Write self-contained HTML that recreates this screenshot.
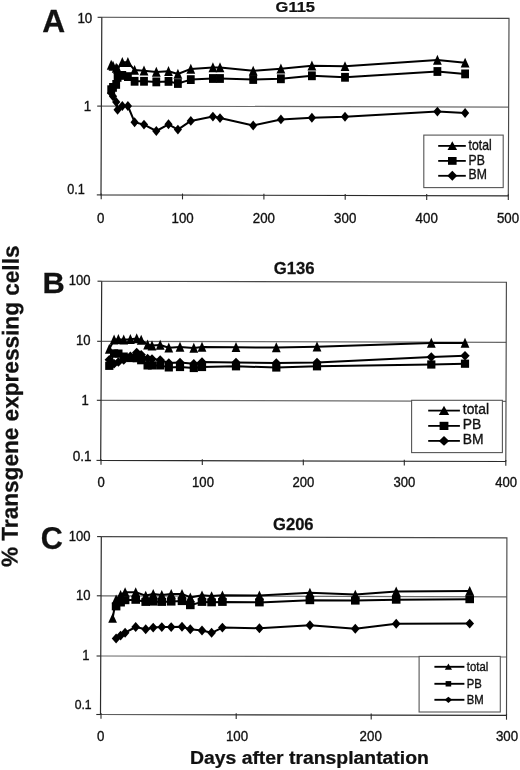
<!DOCTYPE html>
<html><head><meta charset="utf-8"><title>Figure</title>
<style>html,body{margin:0;padding:0;background:#fff;}body{width:520px;height:770px;overflow:hidden;}svg{display:block;}text{font-family:'Liberation Sans', Arial, Helvetica, sans-serif;}</style>
</head><body>
<svg width="520" height="770" viewBox="0 0 520 770">
<rect width="520" height="770" fill="#fff"/>
<line x1="101.40" y1="106.10" x2="508.65" y2="107.10" stroke="#6a6a6a" stroke-width="1.2"/>
<line x1="97.20" y1="106.10" x2="101.40" y2="106.10" stroke="#2a2a2a" stroke-width="1.1"/>
<path d="M101.8 17.3L509.0 18.4L508.3 195.8" fill="none" stroke="#484848" stroke-width="1.15"/>
<path d="M101.8 17.3L101.0 194.9L508.3 195.8" fill="none" stroke="#2a2a2a" stroke-width="1.2"/>
<line x1="97.60" y1="17.3" x2="101.8" y2="17.3" stroke="#2a2a2a" stroke-width="1.1"/>
<line x1="96.80" y1="194.9" x2="101.0" y2="194.9" stroke="#2a2a2a" stroke-width="1.1"/>
<line x1="101.20" y1="193.40" x2="101.20" y2="199.20" stroke="#2a2a2a" stroke-width="1.1"/>
<line x1="182.50" y1="193.58" x2="182.50" y2="199.38" stroke="#2a2a2a" stroke-width="1.1"/>
<line x1="263.90" y1="193.76" x2="263.90" y2="199.56" stroke="#2a2a2a" stroke-width="1.1"/>
<line x1="345.20" y1="193.94" x2="345.20" y2="199.74" stroke="#2a2a2a" stroke-width="1.1"/>
<line x1="426.70" y1="194.12" x2="426.70" y2="199.92" stroke="#2a2a2a" stroke-width="1.1"/>
<line x1="508.30" y1="194.30" x2="508.30" y2="200.10" stroke="#2a2a2a" stroke-width="1.1"/>
<text transform="translate(42.20 32.00) scale(1.030 1)" font-size="30.8" text-anchor="start" font-weight="bold" fill="#111" stroke="#111" stroke-width="0.25">A</text>
<text transform="translate(295.30 12.40) scale(1.100 1)" font-size="15.0" text-anchor="middle" font-weight="bold" fill="#111" stroke="#111" stroke-width="0.25">G115</text>
<text transform="translate(92.30 22.60) scale(0.970 1)" font-size="13.8" text-anchor="end" fill="#111" stroke="#111" stroke-width="0.35">10</text>
<text transform="translate(91.30 110.90) scale(0.970 1)" font-size="13.8" text-anchor="end" fill="#111" stroke="#111" stroke-width="0.35">1</text>
<text transform="translate(84.90 194.40) scale(0.880 1)" font-size="14.4" text-anchor="end" fill="#111" stroke="#111" stroke-width="0.35">0.1</text>
<text transform="translate(100.80 223.00) scale(0.950 1)" font-size="14.0" text-anchor="middle" fill="#111" stroke="#111" stroke-width="0.35">0</text>
<text transform="translate(182.60 223.00) scale(0.950 1)" font-size="14.0" text-anchor="middle" fill="#111" stroke="#111" stroke-width="0.35">100</text>
<text transform="translate(263.90 223.00) scale(0.950 1)" font-size="14.0" text-anchor="middle" fill="#111" stroke="#111" stroke-width="0.35">200</text>
<text transform="translate(345.20 223.00) scale(0.950 1)" font-size="14.0" text-anchor="middle" fill="#111" stroke="#111" stroke-width="0.35">300</text>
<text transform="translate(426.70 223.00) scale(0.950 1)" font-size="14.0" text-anchor="middle" fill="#111" stroke="#111" stroke-width="0.35">400</text>
<text transform="translate(508.00 223.00) scale(0.950 1)" font-size="14.0" text-anchor="middle" fill="#111" stroke="#111" stroke-width="0.35">500</text>
<path d="M111.2 64.9L113.0 66.0L116.2 68.0L117.6 69.0L122.3 62.2L127.9 62.2L134.6 70.1L144.0 70.7L156.3 71.9L168.5 71.2L177.9 74.0L190.8 68.9L212.9 67.5L220.0 67.5L253.2 70.8L280.9 68.7L311.9 65.7L345.0 66.3L437.4 60.0L465.1 62.8" fill="none" stroke="#000" stroke-width="2.0" stroke-linejoin="round"/>
<g fill="#000"><path d="M111.20 59.75L115.60 69.65L106.80 69.65Z"/><path d="M113.00 60.85L117.40 70.75L108.60 70.75Z"/><path d="M116.20 62.85L120.60 72.75L111.80 72.75Z"/><path d="M117.60 63.85L122.00 73.75L113.20 73.75Z"/><path d="M122.30 57.05L126.70 66.95L117.90 66.95Z"/><path d="M127.90 57.05L132.30 66.95L123.50 66.95Z"/><path d="M134.60 64.95L139.00 74.85L130.20 74.85Z"/><path d="M144.00 65.55L148.40 75.45L139.60 75.45Z"/><path d="M156.30 66.75L160.70 76.65L151.90 76.65Z"/><path d="M168.50 66.05L172.90 75.95L164.10 75.95Z"/><path d="M177.90 68.85L182.30 78.75L173.50 78.75Z"/><path d="M190.80 63.75L195.20 73.65L186.40 73.65Z"/><path d="M212.90 62.35L217.30 72.25L208.50 72.25Z"/><path d="M220.00 62.35L224.40 72.25L215.60 72.25Z"/><path d="M253.20 65.65L257.60 75.55L248.80 75.55Z"/><path d="M280.90 63.55L285.30 73.45L276.50 73.45Z"/><path d="M311.90 60.55L316.30 70.45L307.50 70.45Z"/><path d="M345.00 61.15L349.40 71.05L340.60 71.05Z"/><path d="M437.40 54.85L441.80 64.75L433.00 64.75Z"/><path d="M465.10 57.65L469.50 67.55L460.70 67.55Z"/></g>
<path d="M111.2 89.7L113.0 87.4L116.2 84.4L117.6 77.4L122.3 75.4L127.9 76.6L134.6 81.3L144.0 81.3L156.3 81.9L168.5 81.4L177.9 83.5L190.8 79.6L212.9 78.5L220.0 78.5L253.2 79.5L280.9 78.8L311.9 75.8L345.0 77.3L437.4 71.5L465.1 73.9" fill="none" stroke="#000" stroke-width="2.0" stroke-linejoin="round"/>
<g fill="#000"><rect x="107.30" y="85.30" width="7.8" height="8.8"/><rect x="109.10" y="83.00" width="7.8" height="8.8"/><rect x="112.30" y="80.00" width="7.8" height="8.8"/><rect x="113.70" y="73.00" width="7.8" height="8.8"/><rect x="118.40" y="71.00" width="7.8" height="8.8"/><rect x="124.00" y="72.20" width="7.8" height="8.8"/><rect x="130.70" y="76.90" width="7.8" height="8.8"/><rect x="140.10" y="76.90" width="7.8" height="8.8"/><rect x="152.40" y="77.50" width="7.8" height="8.8"/><rect x="164.60" y="77.00" width="7.8" height="8.8"/><rect x="174.00" y="79.10" width="7.8" height="8.8"/><rect x="186.90" y="75.20" width="7.8" height="8.8"/><rect x="209.00" y="74.10" width="7.8" height="8.8"/><rect x="216.10" y="74.10" width="7.8" height="8.8"/><rect x="249.30" y="75.10" width="7.8" height="8.8"/><rect x="277.00" y="74.40" width="7.8" height="8.8"/><rect x="308.00" y="71.40" width="7.8" height="8.8"/><rect x="341.10" y="72.90" width="7.8" height="8.8"/><rect x="433.50" y="67.10" width="7.8" height="8.8"/><rect x="461.20" y="69.50" width="7.8" height="8.8"/></g>
<path d="M111.2 93.0L113.0 96.2L116.2 102.0L117.6 109.8L122.3 106.0L127.9 106.0L134.6 122.2L144.0 124.6L156.3 131.0L168.5 124.3L177.9 129.6L190.8 120.9L212.9 116.6L220.0 118.1L253.2 125.5L280.9 119.4L311.9 117.8L345.0 116.8L437.4 111.6L465.1 113.0" fill="none" stroke="#000" stroke-width="2.0" stroke-linejoin="round"/>
<g fill="#000"><path d="M111.20 88.05L115.30 93.00L111.20 97.95L107.10 93.00Z"/><path d="M113.00 91.25L117.10 96.20L113.00 101.15L108.90 96.20Z"/><path d="M116.20 97.05L120.30 102.00L116.20 106.95L112.10 102.00Z"/><path d="M117.60 104.85L121.70 109.80L117.60 114.75L113.50 109.80Z"/><path d="M122.30 101.05L126.40 106.00L122.30 110.95L118.20 106.00Z"/><path d="M127.90 101.05L132.00 106.00L127.90 110.95L123.80 106.00Z"/><path d="M134.60 117.25L138.70 122.20L134.60 127.15L130.50 122.20Z"/><path d="M144.00 119.65L148.10 124.60L144.00 129.55L139.90 124.60Z"/><path d="M156.30 126.05L160.40 131.00L156.30 135.95L152.20 131.00Z"/><path d="M168.50 119.35L172.60 124.30L168.50 129.25L164.40 124.30Z"/><path d="M177.90 124.65L182.00 129.60L177.90 134.55L173.80 129.60Z"/><path d="M190.80 115.95L194.90 120.90L190.80 125.85L186.70 120.90Z"/><path d="M212.90 111.65L217.00 116.60L212.90 121.55L208.80 116.60Z"/><path d="M220.00 113.15L224.10 118.10L220.00 123.05L215.90 118.10Z"/><path d="M253.20 120.55L257.30 125.50L253.20 130.45L249.10 125.50Z"/><path d="M280.90 114.45L285.00 119.40L280.90 124.35L276.80 119.40Z"/><path d="M311.90 112.85L316.00 117.80L311.90 122.75L307.80 117.80Z"/><path d="M345.00 111.85L349.10 116.80L345.00 121.75L340.90 116.80Z"/><path d="M437.40 106.65L441.50 111.60L437.40 116.55L433.30 111.60Z"/><path d="M465.10 108.05L469.20 113.00L465.10 117.95L461.00 113.00Z"/></g>
<rect x="423.8" y="135.1" width="79.39999999999998" height="52.5" fill="#fff" stroke="#555" stroke-width="1.1"/>
<line x1="438.2" y1="145.9" x2="465.8" y2="145.9" stroke="#000" stroke-width="1.8"/>
<g fill="#000"><path d="M452.30 141.32L457.10 150.12L447.50 150.12Z"/></g>
<text transform="translate(468.60 149.50) scale(0.860 1)" font-size="14.2" text-anchor="start" fill="#111" stroke="#111" stroke-width="0.35">total</text>
<line x1="438.2" y1="160.9" x2="465.8" y2="160.9" stroke="#000" stroke-width="1.8"/>
<g fill="#000"><rect x="448.00" y="157.00" width="8.6" height="7.8"/></g>
<text transform="translate(468.60 164.50) scale(0.860 1)" font-size="14.2" text-anchor="start" fill="#111" stroke="#111" stroke-width="0.35">PB</text>
<line x1="438.2" y1="175.8" x2="465.8" y2="175.8" stroke="#000" stroke-width="1.8"/>
<g fill="#000"><path d="M452.30 170.85L457.25 175.80L452.30 180.75L447.35 175.80Z"/></g>
<text transform="translate(468.60 179.40) scale(0.860 1)" font-size="14.2" text-anchor="start" fill="#111" stroke="#111" stroke-width="0.35">BM</text>
<line x1="101.36" y1="341.30" x2="506.20" y2="342.33" stroke="#6a6a6a" stroke-width="1.2"/>
<line x1="97.16" y1="341.30" x2="101.36" y2="341.30" stroke="#2a2a2a" stroke-width="1.1"/>
<line x1="101.04" y1="400.30" x2="506.00" y2="401.37" stroke="#6a6a6a" stroke-width="1.2"/>
<line x1="96.84" y1="400.30" x2="101.04" y2="400.30" stroke="#2a2a2a" stroke-width="1.1"/>
<path d="M101.7 281.2L506.4 282.2L505.8 461.5" fill="none" stroke="#484848" stroke-width="1.15"/>
<path d="M101.7 281.2L100.7 460.4L505.8 461.5" fill="none" stroke="#2a2a2a" stroke-width="1.2"/>
<line x1="97.50" y1="281.2" x2="101.7" y2="281.2" stroke="#2a2a2a" stroke-width="1.1"/>
<line x1="96.50" y1="460.4" x2="100.7" y2="460.4" stroke="#2a2a2a" stroke-width="1.1"/>
<line x1="101.00" y1="458.90" x2="101.00" y2="464.70" stroke="#2a2a2a" stroke-width="1.1"/>
<line x1="202.30" y1="459.18" x2="202.30" y2="464.98" stroke="#2a2a2a" stroke-width="1.1"/>
<line x1="303.30" y1="459.45" x2="303.30" y2="465.25" stroke="#2a2a2a" stroke-width="1.1"/>
<line x1="404.30" y1="459.72" x2="404.30" y2="465.52" stroke="#2a2a2a" stroke-width="1.1"/>
<line x1="505.80" y1="460.00" x2="505.80" y2="465.80" stroke="#2a2a2a" stroke-width="1.1"/>
<text transform="translate(42.40 293.00) scale(1.030 1)" font-size="30.0" text-anchor="start" font-weight="bold" fill="#111" stroke="#111" stroke-width="0.25">B</text>
<text transform="translate(294.20 274.10) scale(1.060 1)" font-size="15.8" text-anchor="middle" font-weight="bold" fill="#111" stroke="#111" stroke-width="0.25">G136</text>
<text transform="translate(90.60 284.80) scale(0.920 1)" font-size="14.2" text-anchor="end" fill="#111" stroke="#111" stroke-width="0.35">100</text>
<text transform="translate(90.60 344.80) scale(0.920 1)" font-size="14.2" text-anchor="end" fill="#111" stroke="#111" stroke-width="0.35">10</text>
<text transform="translate(88.80 404.60) scale(0.920 1)" font-size="14.2" text-anchor="end" fill="#111" stroke="#111" stroke-width="0.35">1</text>
<text transform="translate(91.60 461.40) scale(0.970 1)" font-size="14.0" text-anchor="end" fill="#111" stroke="#111" stroke-width="0.35">0.1</text>
<text transform="translate(101.20 486.60) scale(0.950 1)" font-size="13.8" text-anchor="middle" fill="#111" stroke="#111" stroke-width="0.35">0</text>
<text transform="translate(203.00 486.60) scale(0.950 1)" font-size="13.8" text-anchor="middle" fill="#111" stroke="#111" stroke-width="0.35">100</text>
<text transform="translate(303.30 486.60) scale(0.950 1)" font-size="13.8" text-anchor="middle" fill="#111" stroke="#111" stroke-width="0.35">200</text>
<text transform="translate(404.30 486.60) scale(0.950 1)" font-size="13.8" text-anchor="middle" fill="#111" stroke="#111" stroke-width="0.35">300</text>
<text transform="translate(506.20 486.60) scale(0.950 1)" font-size="13.8" text-anchor="middle" fill="#111" stroke="#111" stroke-width="0.35">400</text>
<path d="M109.3 349.0L114.1 339.7L118.4 339.3L123.7 339.7L130.4 339.3L136.7 338.5L141.2 339.9L147.6 344.8L152.0 345.6L160.2 345.0L168.8 347.8L180.0 347.0L193.8 348.0L202.0 347.0L236.0 347.3L276.3 347.5L317.0 346.8L431.3 343.0L465.0 343.0" fill="none" stroke="#000" stroke-width="2.0" stroke-linejoin="round"/>
<g fill="#000"><path d="M109.30 343.80L113.70 353.80L104.90 353.80Z"/><path d="M114.10 334.50L118.50 344.50L109.70 344.50Z"/><path d="M118.40 334.10L122.80 344.10L114.00 344.10Z"/><path d="M123.70 334.50L128.10 344.50L119.30 344.50Z"/><path d="M130.40 334.10L134.80 344.10L126.00 344.10Z"/><path d="M136.70 333.30L141.10 343.30L132.30 343.30Z"/><path d="M141.20 334.70L145.60 344.70L136.80 344.70Z"/><path d="M147.60 339.60L152.00 349.60L143.20 349.60Z"/><path d="M152.00 340.40L156.40 350.40L147.60 350.40Z"/><path d="M160.20 339.80L164.60 349.80L155.80 349.80Z"/><path d="M168.80 342.60L173.20 352.60L164.40 352.60Z"/><path d="M180.00 341.80L184.40 351.80L175.60 351.80Z"/><path d="M193.80 342.80L198.20 352.80L189.40 352.80Z"/><path d="M202.00 341.80L206.40 351.80L197.60 351.80Z"/><path d="M236.00 342.10L240.40 352.10L231.60 352.10Z"/><path d="M276.30 342.30L280.70 352.30L271.90 352.30Z"/><path d="M317.00 341.60L321.40 351.60L312.60 351.60Z"/><path d="M431.30 337.80L435.70 347.80L426.90 347.80Z"/><path d="M465.00 337.80L469.40 347.80L460.60 347.80Z"/></g>
<path d="M109.3 365.8L114.1 353.4L118.4 353.6L123.7 356.6L130.4 358.0L136.7 358.2L141.2 360.2L147.6 365.4L152.0 365.4L160.2 365.4L168.8 367.4L180.0 367.0L193.8 368.0L202.0 367.0L236.0 366.3L276.3 367.5L317.0 366.3L431.3 364.5L465.0 363.7" fill="none" stroke="#000" stroke-width="2.0" stroke-linejoin="round"/>
<g fill="#000"><rect x="105.20" y="361.70" width="8.2" height="8.2"/><rect x="110.00" y="349.30" width="8.2" height="8.2"/><rect x="114.30" y="349.50" width="8.2" height="8.2"/><rect x="119.60" y="352.50" width="8.2" height="8.2"/><rect x="126.30" y="353.90" width="8.2" height="8.2"/><rect x="132.60" y="354.10" width="8.2" height="8.2"/><rect x="137.10" y="356.10" width="8.2" height="8.2"/><rect x="143.50" y="361.30" width="8.2" height="8.2"/><rect x="147.90" y="361.30" width="8.2" height="8.2"/><rect x="156.10" y="361.30" width="8.2" height="8.2"/><rect x="164.70" y="363.30" width="8.2" height="8.2"/><rect x="175.90" y="362.90" width="8.2" height="8.2"/><rect x="189.70" y="363.90" width="8.2" height="8.2"/><rect x="197.90" y="362.90" width="8.2" height="8.2"/><rect x="231.90" y="362.20" width="8.2" height="8.2"/><rect x="272.20" y="363.40" width="8.2" height="8.2"/><rect x="312.90" y="362.20" width="8.2" height="8.2"/><rect x="427.20" y="360.40" width="8.2" height="8.2"/><rect x="460.90" y="359.60" width="8.2" height="8.2"/></g>
<path d="M109.3 359.8L114.1 363.8L118.4 362.0L123.7 360.0L130.4 356.2L136.7 352.4L141.2 354.8L147.6 358.5L152.0 359.0L160.2 360.0L168.8 363.0L180.0 362.5L193.8 363.7L202.0 362.0L236.0 362.5L276.3 363.0L317.0 362.5L431.3 357.0L465.0 355.7" fill="none" stroke="#000" stroke-width="2.0" stroke-linejoin="round"/>
<g fill="#000"><path d="M109.30 355.10L114.00 359.80L109.30 364.50L104.60 359.80Z"/><path d="M114.10 359.10L118.80 363.80L114.10 368.50L109.40 363.80Z"/><path d="M118.40 357.30L123.10 362.00L118.40 366.70L113.70 362.00Z"/><path d="M123.70 355.30L128.40 360.00L123.70 364.70L119.00 360.00Z"/><path d="M130.40 351.50L135.10 356.20L130.40 360.90L125.70 356.20Z"/><path d="M136.70 347.70L141.40 352.40L136.70 357.10L132.00 352.40Z"/><path d="M141.20 350.10L145.90 354.80L141.20 359.50L136.50 354.80Z"/><path d="M147.60 353.80L152.30 358.50L147.60 363.20L142.90 358.50Z"/><path d="M152.00 354.30L156.70 359.00L152.00 363.70L147.30 359.00Z"/><path d="M160.20 355.30L164.90 360.00L160.20 364.70L155.50 360.00Z"/><path d="M168.80 358.30L173.50 363.00L168.80 367.70L164.10 363.00Z"/><path d="M180.00 357.80L184.70 362.50L180.00 367.20L175.30 362.50Z"/><path d="M193.80 359.00L198.50 363.70L193.80 368.40L189.10 363.70Z"/><path d="M202.00 357.30L206.70 362.00L202.00 366.70L197.30 362.00Z"/><path d="M236.00 357.80L240.70 362.50L236.00 367.20L231.30 362.50Z"/><path d="M276.30 358.30L281.00 363.00L276.30 367.70L271.60 363.00Z"/><path d="M317.00 357.80L321.70 362.50L317.00 367.20L312.30 362.50Z"/><path d="M431.30 352.30L436.00 357.00L431.30 361.70L426.60 357.00Z"/><path d="M465.00 351.00L469.70 355.70L465.00 360.40L460.30 355.70Z"/></g>
<rect x="411.6" y="400.3" width="90.79999999999995" height="52.30000000000001" fill="#fff" stroke="#555" stroke-width="1.1"/>
<line x1="428.2" y1="410.6" x2="459.9" y2="410.6" stroke="#000" stroke-width="1.8"/>
<g fill="#000"><path d="M444.00 405.82L449.20 415.02L438.80 415.02Z"/></g>
<text transform="translate(462.80 414.00) scale(0.950 1)" font-size="14.6" text-anchor="start" fill="#111" stroke="#111" stroke-width="0.35">total</text>
<line x1="428.2" y1="425.9" x2="459.9" y2="425.9" stroke="#000" stroke-width="1.8"/>
<g fill="#000"><rect x="439.60" y="421.80" width="8.8" height="8.2"/></g>
<text transform="translate(462.80 429.30) scale(0.950 1)" font-size="14.6" text-anchor="start" fill="#111" stroke="#111" stroke-width="0.35">PB</text>
<line x1="428.2" y1="440.9" x2="459.9" y2="440.9" stroke="#000" stroke-width="1.8"/>
<g fill="#000"><path d="M444.00 436.00L449.20 440.90L444.00 445.80L438.80 440.90Z"/></g>
<text transform="translate(462.80 444.30) scale(0.950 1)" font-size="14.6" text-anchor="start" fill="#111" stroke="#111" stroke-width="0.35">BM</text>
<line x1="101.03" y1="595.80" x2="506.77" y2="596.90" stroke="#6a6a6a" stroke-width="1.2"/>
<line x1="96.83" y1="595.80" x2="101.03" y2="595.80" stroke="#2a2a2a" stroke-width="1.1"/>
<line x1="100.76" y1="656.00" x2="506.63" y2="657.00" stroke="#6a6a6a" stroke-width="1.2"/>
<line x1="96.56" y1="656.00" x2="100.76" y2="656.00" stroke="#2a2a2a" stroke-width="1.1"/>
<path d="M101.3 536.6L506.9 537.8L506.5 715.4" fill="none" stroke="#484848" stroke-width="1.15"/>
<path d="M101.3 536.6L100.5 714.5L506.5 715.4" fill="none" stroke="#2a2a2a" stroke-width="1.2"/>
<line x1="97.10" y1="536.6" x2="101.3" y2="536.6" stroke="#2a2a2a" stroke-width="1.1"/>
<line x1="96.30" y1="714.5" x2="100.5" y2="714.5" stroke="#2a2a2a" stroke-width="1.1"/>
<line x1="101.00" y1="713.00" x2="101.00" y2="718.80" stroke="#2a2a2a" stroke-width="1.1"/>
<line x1="236.20" y1="713.30" x2="236.20" y2="719.10" stroke="#2a2a2a" stroke-width="1.1"/>
<line x1="371.20" y1="713.60" x2="371.20" y2="719.40" stroke="#2a2a2a" stroke-width="1.1"/>
<line x1="506.50" y1="713.90" x2="506.50" y2="719.70" stroke="#2a2a2a" stroke-width="1.1"/>
<text transform="translate(40.80 548.60) scale(1.000 1)" font-size="30.6" text-anchor="start" font-weight="bold" fill="#111" stroke="#111" stroke-width="0.25">C</text>
<text transform="translate(293.30 529.80) scale(1.050 1)" font-size="15.8" text-anchor="middle" font-weight="bold" fill="#111" stroke="#111" stroke-width="0.25">G206</text>
<text transform="translate(90.40 541.00) scale(0.920 1)" font-size="14.2" text-anchor="end" fill="#111" stroke="#111" stroke-width="0.35">100</text>
<text transform="translate(90.40 600.40) scale(0.920 1)" font-size="14.2" text-anchor="end" fill="#111" stroke="#111" stroke-width="0.35">10</text>
<text transform="translate(89.60 660.20) scale(0.920 1)" font-size="14.2" text-anchor="end" fill="#111" stroke="#111" stroke-width="0.35">1</text>
<text transform="translate(91.60 708.90) scale(0.910 1)" font-size="13.4" text-anchor="end" fill="#111" stroke="#111" stroke-width="0.35">0.1</text>
<text transform="translate(100.80 741.00) scale(0.950 1)" font-size="14.0" text-anchor="middle" fill="#111" stroke="#111" stroke-width="0.35">0</text>
<text transform="translate(237.00 741.00) scale(0.950 1)" font-size="14.0" text-anchor="middle" fill="#111" stroke="#111" stroke-width="0.35">100</text>
<text transform="translate(370.70 741.00) scale(0.950 1)" font-size="14.0" text-anchor="middle" fill="#111" stroke="#111" stroke-width="0.35">200</text>
<text transform="translate(507.00 741.00) scale(0.950 1)" font-size="14.0" text-anchor="middle" fill="#111" stroke="#111" stroke-width="0.35">300</text>
<path d="M112.6 618.2L116.1 599.5L120.6 594.9L125.1 592.2L135.7 592.2L145.7 595.6L153.2 593.9L161.8 594.9L171.2 593.9L182.0 593.9L190.3 597.4L202.0 595.3L211.6 596.1L222.4 595.3L259.4 595.4L309.9 592.7L355.3 594.6L396.2 591.5L469.7 591.0" fill="none" stroke="#000" stroke-width="2.0" stroke-linejoin="round"/>
<g fill="#000"><path d="M112.60 613.31L116.95 622.71L108.25 622.71Z"/><path d="M116.10 594.61L120.45 604.01L111.75 604.01Z"/><path d="M120.60 590.01L124.95 599.41L116.25 599.41Z"/><path d="M125.10 587.31L129.45 596.71L120.75 596.71Z"/><path d="M135.70 587.31L140.05 596.71L131.35 596.71Z"/><path d="M145.70 590.71L150.05 600.11L141.35 600.11Z"/><path d="M153.20 589.01L157.55 598.41L148.85 598.41Z"/><path d="M161.80 590.01L166.15 599.41L157.45 599.41Z"/><path d="M171.20 589.01L175.55 598.41L166.85 598.41Z"/><path d="M182.00 589.01L186.35 598.41L177.65 598.41Z"/><path d="M190.30 592.51L194.65 601.91L185.95 601.91Z"/><path d="M202.00 590.41L206.35 599.81L197.65 599.81Z"/><path d="M211.60 591.21L215.95 600.61L207.25 600.61Z"/><path d="M222.40 590.41L226.75 599.81L218.05 599.81Z"/><path d="M259.40 590.51L263.75 599.91L255.05 599.91Z"/><path d="M309.90 587.81L314.25 597.21L305.55 597.21Z"/><path d="M355.30 589.71L359.65 599.11L350.95 599.11Z"/><path d="M396.20 586.61L400.55 596.01L391.85 596.01Z"/><path d="M469.70 586.11L474.05 595.51L465.35 595.51Z"/></g>
<path d="M116.1 606.4L120.6 602.5L125.1 600.2L135.7 599.8L145.7 601.9L153.2 601.6L161.8 601.9L171.2 601.6L182.0 601.1L190.3 605.2L202.0 601.9L211.6 602.3L222.4 601.9L259.4 602.4L309.9 600.2L355.3 600.6L396.2 599.7L469.7 599.2" fill="none" stroke="#000" stroke-width="2.0" stroke-linejoin="round"/>
<g fill="#000"><rect x="111.80" y="602.40" width="8.6" height="8.0"/><rect x="116.30" y="598.50" width="8.6" height="8.0"/><rect x="120.80" y="596.20" width="8.6" height="8.0"/><rect x="131.40" y="595.80" width="8.6" height="8.0"/><rect x="141.40" y="597.90" width="8.6" height="8.0"/><rect x="148.90" y="597.60" width="8.6" height="8.0"/><rect x="157.50" y="597.90" width="8.6" height="8.0"/><rect x="166.90" y="597.60" width="8.6" height="8.0"/><rect x="177.70" y="597.10" width="8.6" height="8.0"/><rect x="186.00" y="601.20" width="8.6" height="8.0"/><rect x="197.70" y="597.90" width="8.6" height="8.0"/><rect x="207.30" y="598.30" width="8.6" height="8.0"/><rect x="218.10" y="597.90" width="8.6" height="8.0"/><rect x="255.10" y="598.40" width="8.6" height="8.0"/><rect x="305.60" y="596.20" width="8.6" height="8.0"/><rect x="351.00" y="596.60" width="8.6" height="8.0"/><rect x="391.90" y="595.70" width="8.6" height="8.0"/><rect x="465.40" y="595.20" width="8.6" height="8.0"/></g>
<path d="M116.1 638.5L120.6 635.6L125.1 632.7L135.7 627.0L145.7 629.3L153.2 627.6L161.8 627.1L171.2 627.1L182.0 626.7L190.3 629.3L202.0 630.5L211.6 632.8L222.4 627.6L259.4 628.2L309.9 625.3L355.3 628.8L396.2 623.7L469.7 623.6" fill="none" stroke="#000" stroke-width="2.0" stroke-linejoin="round"/>
<g fill="#000"><path d="M116.10 633.55L120.45 638.50L116.10 643.45L111.75 638.50Z"/><path d="M120.60 630.65L124.95 635.60L120.60 640.55L116.25 635.60Z"/><path d="M125.10 627.75L129.45 632.70L125.10 637.65L120.75 632.70Z"/><path d="M135.70 622.05L140.05 627.00L135.70 631.95L131.35 627.00Z"/><path d="M145.70 624.35L150.05 629.30L145.70 634.25L141.35 629.30Z"/><path d="M153.20 622.65L157.55 627.60L153.20 632.55L148.85 627.60Z"/><path d="M161.80 622.15L166.15 627.10L161.80 632.05L157.45 627.10Z"/><path d="M171.20 622.15L175.55 627.10L171.20 632.05L166.85 627.10Z"/><path d="M182.00 621.75L186.35 626.70L182.00 631.65L177.65 626.70Z"/><path d="M190.30 624.35L194.65 629.30L190.30 634.25L185.95 629.30Z"/><path d="M202.00 625.55L206.35 630.50L202.00 635.45L197.65 630.50Z"/><path d="M211.60 627.85L215.95 632.80L211.60 637.75L207.25 632.80Z"/><path d="M222.40 622.65L226.75 627.60L222.40 632.55L218.05 627.60Z"/><path d="M259.40 623.25L263.75 628.20L259.40 633.15L255.05 628.20Z"/><path d="M309.90 620.35L314.25 625.30L309.90 630.25L305.55 625.30Z"/><path d="M355.30 623.85L359.65 628.80L355.30 633.75L350.95 628.80Z"/><path d="M396.20 618.75L400.55 623.70L396.20 628.65L391.85 623.70Z"/><path d="M469.70 618.65L474.05 623.60L469.70 628.55L465.35 623.60Z"/></g>
<rect x="419.1" y="656.4" width="81.19999999999999" height="55.60000000000002" fill="#fff" stroke="#555" stroke-width="1.1"/>
<line x1="434.4" y1="666.8" x2="464.4" y2="666.8" stroke="#000" stroke-width="1.9"/>
<g fill="#000"><path d="M448.40 663.47L452.00 669.87L444.80 669.87Z"/></g>
<text transform="translate(466.80 670.70) scale(0.900 1)" font-size="12.6" text-anchor="start" fill="#111" stroke="#111" stroke-width="0.35">total</text>
<line x1="434.4" y1="683.8" x2="464.4" y2="683.8" stroke="#000" stroke-width="1.9"/>
<g fill="#000"><rect x="445.60" y="681.10" width="5.6" height="5.4"/></g>
<text transform="translate(466.80 687.70) scale(0.900 1)" font-size="12.6" text-anchor="start" fill="#111" stroke="#111" stroke-width="0.35">PB</text>
<line x1="434.4" y1="699.8" x2="464.4" y2="699.8" stroke="#000" stroke-width="1.9"/>
<g fill="#000"><path d="M448.40 696.70L452.10 699.80L448.40 702.90L444.70 699.80Z"/></g>
<text transform="translate(466.80 703.70) scale(0.900 1)" font-size="12.6" text-anchor="start" fill="#111" stroke="#111" stroke-width="0.35">BM</text>
<text transform="translate(190.00 763.80) scale(1.100 1)" font-size="17.6" text-anchor="start" font-weight="bold" fill="#111" stroke="#111" stroke-width="0.25">Days after transplantation</text>
<text transform="translate(17.60 567.10) rotate(-89.78) scale(0.983 1)" font-size="23.0" text-anchor="start" font-weight="bold" fill="#111" stroke="#111" stroke-width="0.25">% Transgene expressing cells</text>
</svg>
</body></html>
